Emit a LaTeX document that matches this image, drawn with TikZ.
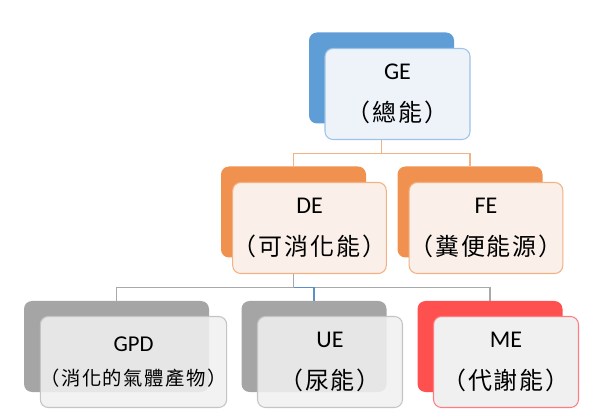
\documentclass[tikz,border=0pt]{standalone}
\usepackage{fontspec}
\setmainfont{Carlito}
\newfontfamily\cjk[LetterSpace=8]{Noto Sans CJK TC}
\usetikzlibrary{backgrounds}
\definecolor{blueback}{HTML}{5F9DD6}
\definecolor{bluefill}{HTML}{EEF3FA}
\definecolor{blueline}{HTML}{9DC3E6}
\definecolor{orangeback}{HTML}{F0914F}
\definecolor{orangefill}{HTML}{FAEFE9}
\definecolor{orangeline}{HTML}{F4B183}
\definecolor{greyback}{HTML}{A5A5A5}
\definecolor{greyfill}{HTML}{F0F0F0}
\definecolor{greyline}{HTML}{C4C4C4}
\definecolor{redback}{HTML}{FF5050}
\definecolor{redline}{HTML}{FF7C80}
\definecolor{linkgrey}{HTML}{A9A9A9}
\definecolor{linkblue}{HTML}{5B8FC8}
\begin{document}
\begin{tikzpicture}[x=0.75pt,y=-0.75pt,
	box/.style={rounded corners=6pt, minimum width=108.75pt, minimum height=68.25pt, inner sep=0pt, align=center},
	wide/.style={minimum width=138.75pt},
	back/.style={box, fill=#1},
	front/.style={box, draw=#1, line width=0.8pt, font=\fontsize{18}{32}\selectfont},
	link/.style={draw=#1, line width=0.8pt}]
	\useasboundingbox (0,0) rectangle (600,420);

	% top
	\node[back=blueback] (geb) at (381.5,78) {};
	\node[front=blueline, fill=bluefill] (ge) at (397.5,94) {GE\\{\cjk （總能）}};

	% middle row
	\node[back=orangeback] (deb) at (293.5,212) {};
	\node[front=orangeline, fill=orangefill] (de) at (309.5,228) {DE\\{\cjk （可消化能）}};
	\node[back=orangeback] (feb) at (470,212) {};
	\node[front=orangeline, fill=orangefill] (fe) at (486,228) {FE\\{\cjk （糞便能源）}};

	% bottom row
	\node[back=greyback, wide] (gpdb) at (116.5,346.5) {};
	\node[front=greyline, wide, fill=greyfill, fill opacity=0.88, text opacity=1, font=\fontsize{17}{25}\selectfont] (gpd) at (133.5,362) {GPD\\{\cjk\fontsize{14.5}{25}\selectfont （消化的氣體產物）}};
	\node[back=greyback] (ueb) at (314,346.5) {};
	\node[front=greyline, fill=greyfill, fill opacity=0.88, text opacity=1] (ue) at (330,362) {UE\\{\cjk （尿能）}};
	\node[back=redback] (meb) at (490,346.5) {};
	\node[front=redline, fill=greyfill] (me) at (506,362) {ME\\{\cjk （代謝能）}};

	% connectors
	\begin{scope}[on background layer]
		\draw[link=orangeline] (geb.south) -- ++(0,30) coordinate (j1) -| (deb.north);
		\draw[link=orangeline] (j1) -| (feb.north);
		\draw[link=linkgrey] (deb.south) -- ++(0,30) coordinate (j2) -| (gpdb.north);
		\draw[link=linkgrey] (j2) -| (meb.north);
		\draw[link=linkblue] (j2) -| (ueb.north);
	\end{scope}
\end{tikzpicture}
\end{document}
